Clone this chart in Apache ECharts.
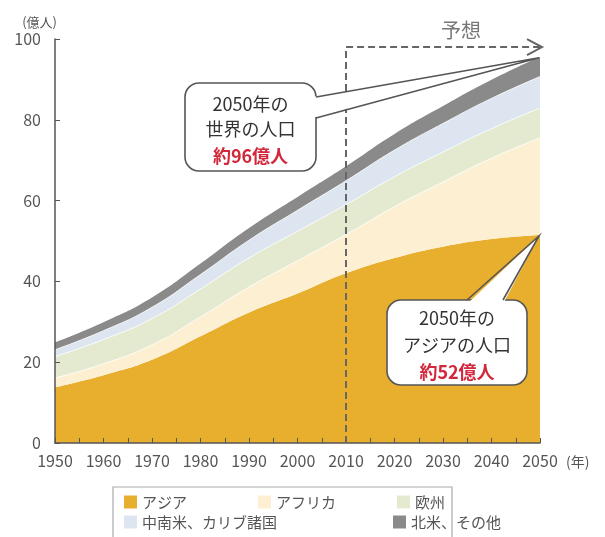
<!DOCTYPE html>
<html>
<head>
<meta charset="utf-8">
<script src="https://cdn.jsdelivr.net/npm/echarts@6/dist/echarts.min.js"></script>
<style>
html,body{margin:0;padding:0;background:#fff;}
#c{width:605px;height:537px;}
</style>
</head>
<body>
<div id="c"></div>
<script>
// 単位: 億人
const years   = ['1950', '1960', '1970', '1980', '1990', '2000', '2010', '2020', '2030', '2040', '2050'];
const asia    = [13.8, 16.8, 20.6, 26.4, 32.3, 37.0, 42.0, 45.8, 48.6, 50.5, 51.5];
const africa  = [2.3, 2.8, 3.7, 4.8, 6.3, 8.1, 9.6, 12.7, 16.0, 20.0, 24.0];
const europe  = [5.3, 6.0, 6.5, 6.9, 7.2, 7.3, 7.4, 7.4, 7.4, 7.3, 7.4];
const latam   = [1.7, 2.2, 2.8, 3.6, 4.4, 5.2, 5.9, 6.6, 7.1, 7.5, 7.8];
const northam = [1.8, 2.1, 2.4, 2.7, 3.0, 3.3, 3.6, 4.0, 4.3, 4.6, 4.9];
const seriesNames = ['アジア', 'アフリカ', '欧州', '中南米、カリブ諸国', '北米、その他'];
const yTicks = [0, 20, 40, 60, 80, 100];
const forecastStart = '2010';

const colors = ['#e8ae2e', '#fdf0d2', '#e4eacf', '#dde6f0', '#8a8a8a'];
const lineW  = [0, 1, 1, 1, 0];
const FONT = '"Noto Sans CJK JP", "Noto Sans", sans-serif';

const chart = echarts.init(document.getElementById('c'), null, {renderer: 'canvas'});
const allData = [asia, africa, europe, latam, northam];

const series = allData.map((arr, i) => ({
  name: seriesNames[i],
  type: 'line',
  stack: 'total',
  smooth: 0.5,
  symbol: 'none',
  xAxisIndex: 0,
  data: arr,
  lineStyle: {width: lineW[i], color: '#ffffff', opacity: 0.8},
  itemStyle: {color: colors[i]},
  areaStyle: {color: colors[i], opacity: 1},
  z: 2
}));

// 凡例の各項目の文字幅(配置用)
const legendTextW = [116, 121, 40, 251, 90];

chart.setOption({
  animation: false,
  backgroundColor: '#fff',
  textStyle: {fontFamily: FONT},
  grid: {left: 55, right: 65, top: 39, bottom: 94},
  xAxis: [{
    type: 'category', data: years, boundaryGap: false,
    name: '(年)', nameLocation: 'end', nameGap: 26,
    nameTextStyle: {color: '#555', fontSize: 14, align: 'left', verticalAlign: 'top', padding: [12, 0, 0, 0], fontFamily: FONT},
    axisLine: {show: true, lineStyle: {color: '#555', width: 1.5}},
    axisTick: {show: false},
    axisLabel: {color: '#555', fontSize: 16, margin: 10, fontFamily: FONT, interval: 0},
    splitLine: {show: false},
    z: 10
  }, {
    // 5年ごとの目盛り
    type: 'value', min: 1950, max: 2050, interval: 5, position: 'bottom',
    axisLine: {show: false},
    axisTick: {show: true, inside: true, length: 5, lineStyle: {color: '#555'}},
    axisLabel: {show: false},
    splitLine: {show: false},
    z: 10
  }],
  yAxis: {
    type: 'value', min: 0, max: 100, interval: 20,
    name: '(億人)', nameLocation: 'end', nameGap: 10,
    nameTextStyle: {color: '#555', fontSize: 13, align: 'right', padding: [0, -2, 0, 0], fontFamily: FONT},
    axisLine: {show: true, lineStyle: {color: '#555', width: 1.5}},
    axisTick: {show: true, inside: true, length: 5, lineStyle: {color: '#555'}},
    axisLabel: {color: '#555', fontSize: 16, margin: 14, fontFamily: FONT},
    splitLine: {show: false},
    z: 10
  },
  legend: {
    left: 124, top: 492, width: 390, orient: 'horizontal',
    icon: 'rect', itemWidth: 13, itemHeight: 13, padding: 0, itemGap: 0,
    selectedMode: false,
    data: seriesNames.map((n, i) => ({name: n, textStyle: {width: legendTextW[i]}})),
    textStyle: {color: '#555', fontSize: 15, lineHeight: 20, fontFamily: FONT}
  },
  series: series
});

// 注釈(先端の位置は軸から変換)
const P = (x, y) => chart.convertToPixel({xAxisIndex: 0, yAxisIndex: 0}, [x, y]);
const last = years.length - 1;
const worldTotal = allData.reduce((s, a) => s + a[last], 0);
const tipWorld = P(years[last], worldTotal);
const tipAsia = P(years[last], asia[last]);
const dBottom = P(forecastStart, 0);
const dTop = P(forecastStart, 98);
const dEnd = P(years[last], 98);

const stroke = '#555';
const graphics = [];
graphics.push({
  type: 'polyline', z: 50,
  shape: {points: [dBottom, dTop, [dEnd[0] + 1, dEnd[1]]]},
  style: {stroke: '#666', lineWidth: 2, lineDash: [7, 4], fill: null}
});
graphics.push({
  type: 'polyline', z: 50,
  shape: {points: [[dEnd[0] - 13, dEnd[1] - 8], [dEnd[0] + 2, dEnd[1]], [dEnd[0] - 13, dEnd[1] + 8]]},
  style: {stroke: '#666', lineWidth: 2, fill: null}
});
graphics.push({
  type: 'text', z: 50, x: 461, y: 30,
  style: {text: '予想', fill: '#777', fontSize: 20, fontFamily: FONT, align: 'center', verticalAlign: 'middle'}
});

function callout(box, base1, base2, tip, lines) {
  graphics.push({
    type: 'rect', z: 60,
    shape: {x: box.x, y: box.y, width: box.w, height: box.h, r: 14},
    style: {fill: '#fff', stroke: stroke, lineWidth: 1.6}
  });
  graphics.push({
    type: 'polygon', z: 61,
    shape: {points: [base1.inner, tip, base2.inner]},
    style: {fill: '#fff', stroke: null}
  });
  graphics.push({
    type: 'polyline', z: 62,
    shape: {points: [base1.edge, tip, base2.edge]},
    style: {stroke: stroke, lineWidth: 1.6, fill: null, lineJoin: 'miter'}
  });
  const cx = box.x + box.w / 2;
  lines.forEach((ln) => {
    graphics.push({
      type: 'text', z: 63, x: cx, y: ln.y,
      style: {text: ln.t, fill: ln.c, fontSize: 18, fontWeight: ln.b ? 'bold' : 'normal',
              fontFamily: FONT, align: 'center', verticalAlign: 'middle'}
    });
  });
}

callout({x: 185, y: 83, w: 131, h: 88},
  {edge: [316, 97], inner: [312, 97]},
  {edge: [316, 118], inner: [312, 118]},
  [tipWorld[0] - 1, tipWorld[1] + 1],
  [{t: '2050年の', c: '#333', y: 104},
   {t: '世界の人口', c: '#333', y: 129},
   {t: '約96億人', c: '#d2283c', y: 156, b: true}]);

callout({x: 387, y: 300, w: 140, h: 85},
  {edge: [467, 300], inner: [467, 304]},
  {edge: [503, 300], inner: [503, 304]},
  [tipAsia[0] - 1, tipAsia[1] + 1],
  [{t: '2050年の', c: '#333', y: 318},
   {t: 'アジアの人口', c: '#333', y: 345},
   {t: '約52億人', c: '#d2283c', y: 372, b: true}]);

// 凡例の枠
graphics.push({
  type: 'rect', z: 1,
  shape: {x: 113, y: 487, width: 339, height: 60},
  style: {fill: 'none', stroke: '#aaa', lineWidth: 1.2}
});

chart.setOption({graphic: graphics});
</script>
</body>
</html>
